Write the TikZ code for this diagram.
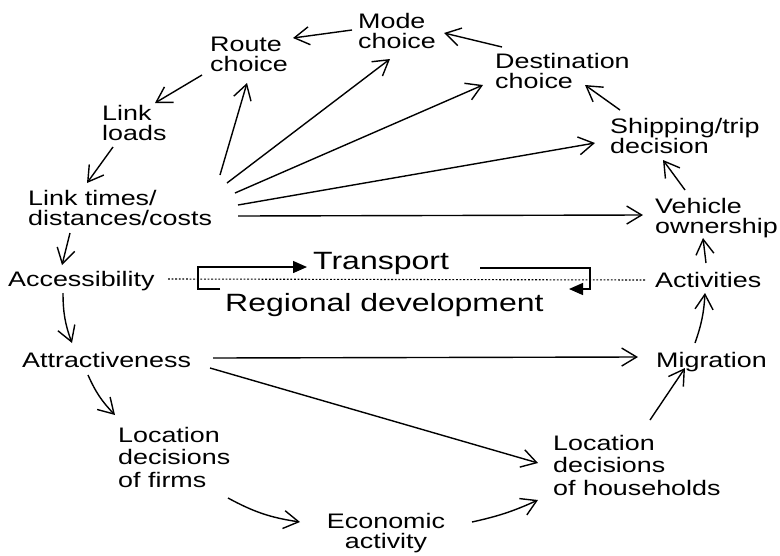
\documentclass[tikz,border=0pt]{standalone}
\usepackage{fontspec}
\setmainfont[FakeStretch=1.28]{Liberation Sans}
\usetikzlibrary{arrows.meta}
\begin{document}
\begin{tikzpicture}[x=1pt,y=1pt,
  lab/.style={inner sep=0pt, anchor=north west, align=left, font=\fontsize{21}{20}\selectfont},
  labw/.style={lab, font=\fontsize{21}{22.5}\selectfont},
  big/.style={inner sep=0pt, anchor=north west, font=\fontsize{25}{25}\selectfont},
  arr/.style={line width=1.4pt, -{Straight Barb[length=15pt,width=18pt]}},
  tri/.style={line width=1.4pt, -{Triangle[length=14pt,width=12pt]}},
  dots/.style={line width=1.1pt, dash pattern=on 1.8pt off 1.8pt}]
\useasboundingbox (0,0) rectangle (780,-555);
% nodes
\node[lab] (mode) at (358,-13) {Mode\\choice};
\node[lab] (route) at (210,-37) {Route\\choice};
\node[lab] (links) at (102,-105) {Link\\loads};
\node[lab] (ltimes) at (28,-190) {Link times/\\distances/costs};
\node[lab] (access) at (8,-271) {Accessibility};
\node[lab] (attract) at (22,-352) {Attractiveness};
\node[labw] (lfirms) at (118,-427) {Location\\decisions\\of firms};
\node[lab, anchor=north, align=center] (econ) at (386,-513) {Economic\\activity};
\node[labw] (lhh) at (553,-435) {Location\\decisions\\of households};
\node[lab] (migr) at (656,-352) {Migration};
\node[lab] (activ) at (655,-272) {Activities};
\node[lab] (vehicle) at (655,-198) {Vehicle\\ownership};
\node[lab] (ship) at (610,-118) {Shipping/trip\\decision};
\node[lab] (dest) at (495,-53) {Destination\\choice};
\node[big] (transport) at (313,-252) {Transport};
\node[big] (regional) at (225,-293) {Regional development};
% dotted divider
\draw[dots] ([shift={(160,-8)}]access.north west) -- ([shift={(-10,-8)}]activ.north west);
% bracket arrows
\draw[tri] ([shift={(-5,4)}]regional.north west) -- ++(-22,0) |- ([shift={(-6,-15)}]transport.north west);
\draw[tri] ([shift={(167,-16)}]transport.north west) -- ++(110,0) |- ([shift={(344,4)}]regional.north west);
% cycle
\draw[arr] ([shift={(-6,-17)}]mode.north west) -- ([shift={(83,-1)}]route.north west);
\draw[arr] ([shift={(7,6)}]dest.north west) -- ([shift={(86,-20)}]mode.north west);
\draw[arr] ([shift={(-8,-38)}]route.north west) -- ([shift={(53,2)}]links.north west);
\draw[arr] ([shift={(11,-42)}]links.north west) -- ([shift={(59,7)}]ltimes.north west);
\draw[arr] ([shift={(42,-43)}]ltimes.north west) -- ([shift={(54,6)}]access.north west);
\draw[arr] ([shift={(55,-22)}]access.north west) to[bend right=10] ([shift={(50,9)}]attract.north west);
\draw[arr] ([shift={(66,-23)}]attract.north west) to[bend right=10] ([shift={(-3,12)}]lfirms.north west);
\draw[arr] ([shift={(110,-71)}]lfirms.north west) to[bend right=10] ([shift={(-86,-9)}]econ.north);
\draw[arr] ([shift={(86,-9)}]econ.north) to[bend right=6] ([shift={(-15,-65)}]lhh.north west);
\draw[arr] ([shift={(97,15)}]lhh.north west) -- ([shift={(29,-16)}]migr.north west);
\draw[arr] ([shift={(39,9)}]migr.north west) to[bend right=8] ([shift={(50,-21)}]activ.north west);
\draw[arr] ([shift={(51,9)}]activ.north west) -- ([shift={(48,-40)}]vehicle.north west);
\draw[arr] ([shift={(30,8)}]vehicle.north west) -- ([shift={(53,-42)}]ship.north west);
\draw[arr] ([shift={(10,8)}]ship.north west) -- ([shift={(90,-32)}]dest.north west);
% cross links
\draw[arr] ([shift={(191,-6)}]attract.north west) -- ([shift={(-18,-5)}]migr.north west);
\draw[arr] ([shift={(188,-16)}]attract.north west) -- ([shift={(-15,-28)}]lhh.north west);
\draw[arr] ([shift={(210,-26)}]ltimes.north west) -- ([shift={(-12,-17)}]vehicle.north west);
\draw[arr] ([shift={(210,-15)}]ltimes.north west) -- ([shift={(-15,-25)}]ship.north west);
\draw[arr] ([shift={(207,-3)}]ltimes.north west) -- ([shift={(-12,-32)}]dest.north west);
\draw[arr] ([shift={(199,7)}]ltimes.north west) -- ([shift={(32,-46)}]mode.north west);
\draw[arr] ([shift={(192,15)}]ltimes.north west) -- ([shift={(37,-46)}]route.north west);
\end{tikzpicture}
\end{document}
